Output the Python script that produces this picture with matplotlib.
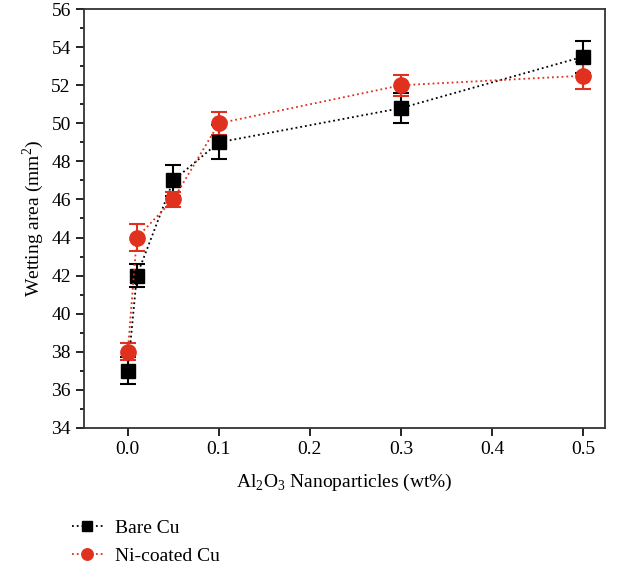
import numpy as np
import matplotlib.pyplot as plt
from matplotlib.ticker import MultipleLocator

plt.rcParams['font.family'] = ['Liberation Serif', 'DejaVu Serif']
plt.rcParams['mathtext.fontset'] = 'custom'
plt.rcParams['mathtext.rm'] = 'Liberation Serif'

wt = [0.0, 0.01, 0.05, 0.1, 0.3, 0.5]
bare_cu = [37.0, 42.0, 47.0, 49.0, 50.8, 53.5]
bare_err = [0.7, 0.6, 0.8, 0.9, 0.8, 0.85]
ni_cu = [38.0, 44.0, 46.0, 50.0, 52.0, 52.5]
ni_err = [0.45, 0.7, 0.4, 0.6, 0.55, 0.7]

fig = plt.figure(figsize=(6.18, 5.69), dpi=100)
ax = fig.add_axes([0.136, 0.248, 0.843, 0.736])

e1 = ax.errorbar(wt, bare_cu, yerr=bare_err, color='black', ls=':', lw=1.3,
                 marker='s', ms=10, capsize=6, elinewidth=1.5, capthick=1.5)
e2 = ax.errorbar(wt, ni_cu, yerr=ni_err, color='#e0301e', ls=':', lw=1.3,
                 marker='o', ms=11, capsize=6, elinewidth=1.5, capthick=1.5)

ax.set_xlim(-0.048, 0.524)
ax.set_ylim(34, 56)
ax.set_xticks([0.0, 0.1, 0.2, 0.3, 0.4, 0.5])
ax.yaxis.set_major_locator(MultipleLocator(2))
ax.yaxis.set_minor_locator(MultipleLocator(1))
ax.tick_params(direction='out', labelsize=14, width=1.2, length=6)
ax.tick_params(which='minor', direction='out', width=1.2, length=3)
for s in ax.spines.values():
    s.set_linewidth(1.3)
    s.set_color('#333333')

ax.set_xlabel(r'Al$_2$O$_3$ Nanoparticles (wt%)', fontsize=14, labelpad=10)
ax.set_ylabel(r'Wetting area (mm$^2$)', fontsize=14)

fig.legend([e1[0], e2[0]], ['Bare Cu', 'Ni-coated Cu'], loc='upper left',
           bbox_to_anchor=(0.088, 0.118), frameon=False, fontsize=14,
           handlelength=1.6, handletextpad=0.6, markerscale=0.75,
           labelspacing=0.55)

fig.savefig('out.png', dpi=100)
